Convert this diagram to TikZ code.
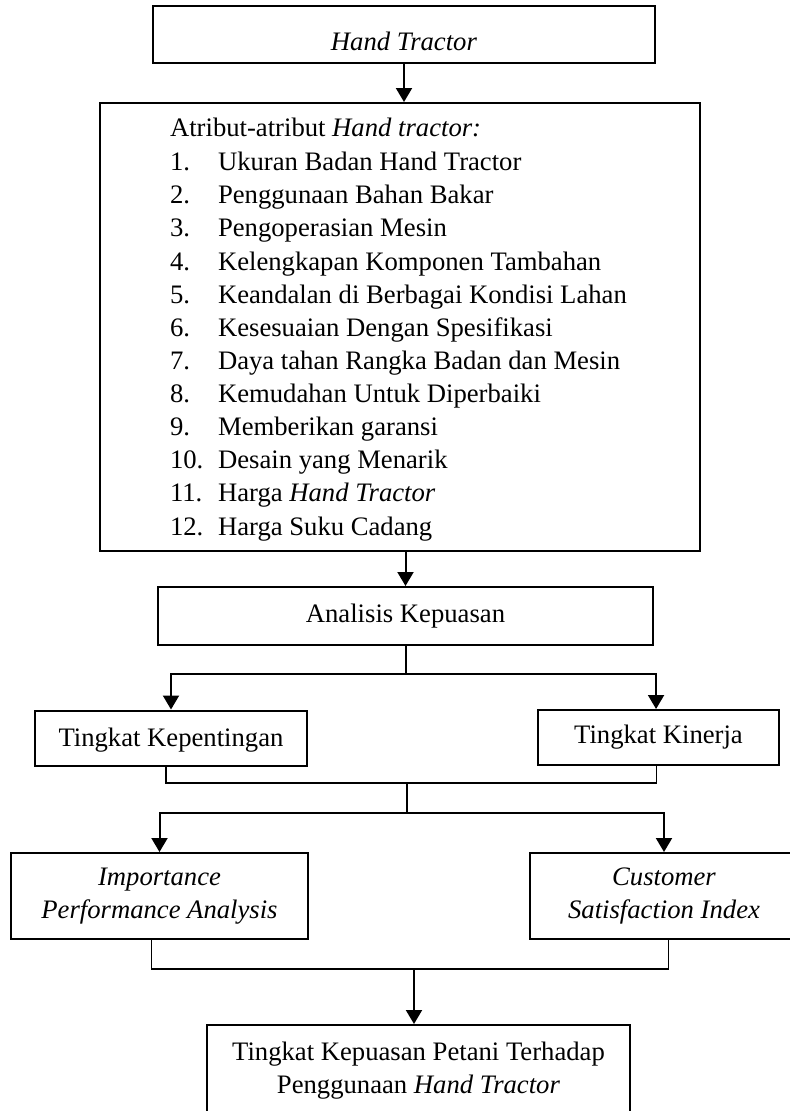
\documentclass[tikz,border=0pt]{standalone}
\usepackage{fontspec}
\setmainfont{Liberation Serif}
\usetikzlibrary{arrows.meta}
\begin{document}
\begin{tikzpicture}[x=0.45pt,y=-0.45pt,
  font=\fontsize{12}{14.85}\selectfont,
  box/.style={draw, line width=0.9pt, inner sep=0pt, align=center},
  conn/.style={line width=0.9pt},
  arr/.style={line width=0.9pt, -{Triangle[length=6.3pt,width=7.2pt]}},
  thinline/.style={line width=0.5pt},
  listtext/.style={anchor=base west, inner sep=0pt}]
\useasboundingbox (0,0) rectangle (790,1111);

% boxes
\node[box, minimum width=502*0.45pt, minimum height=57*0.45pt] (top) at (404,34.5) {\raisebox{-2.9pt}[\height][\depth]{\textit{Hand Tractor}}};
\node[box, minimum width=600*0.45pt, minimum height=448*0.45pt] (attr) at (400,327) {};
\node[listtext] (attrhead) at (169.6,136.7) {Atribut-atribut \textit{Hand tractor:}};
\foreach \n/\t [count=\k] in {
  1/Ukuran Badan Hand Tractor,
  2/Penggunaan Bahan Bakar,
  3/Pengoperasian Mesin,
  4/Kelengkapan Komponen Tambahan,
  5/Keandalan di Berbagai Kondisi Lahan,
  6/Kesesuaian Dengan Spesifikasi,
  7/Daya tahan Rangka Badan dan Mesin,
  8/Kemudahan Untuk Diperbaiki,
  9/Memberikan garansi,
  10/Desain yang Menarik,
  11/{Harga \textit{Hand Tractor}},
  12/Harga Suku Cadang}{
  \node[listtext] (num\k) at (169.6,{170.7+33.12*(\k-1)}) {\n.};
  \node[listtext] (item\k) at (217.6,{170.7+33.12*(\k-1)}) {\t};
}
\node[box, minimum width=495*0.45pt, minimum height=58*0.45pt] (ana) at (405.5,616) {Analisis Kepuasan};
\node[box, minimum width=272*0.45pt, minimum height=55*0.45pt] (kep) at (171,738) {\raisebox{-1.1pt}[\height][\depth]{Tingkat Kepentingan}};
\node[box, minimum width=241*0.45pt, minimum height=55*0.45pt] (kin) at (658.5,737.5) {Tingkat Kinerja};
\node[box, minimum width=297*0.45pt, minimum height=86*0.45pt, font=\fontsize{12}{14.85}\selectfont\itshape] (ipa) at (159.5,896) {Importance\\Performance Analysis};
\node[box, minimum width=268*0.45pt, minimum height=86*0.45pt, font=\fontsize{12}{14.85}\selectfont\itshape] (csi) at (664,896) {Customer\\Satisfaction Index};
\node[box, minimum width=423*0.45pt, minimum height=110*0.45pt] (fin) at (418.5,1080) {};
\node[align=center, inner sep=0pt] (fintext) at (418.5,1070.5) {Tingkat Kepuasan Petani Terhadap\\Penggunaan \textit{Hand Tractor}};

% junctions
\coordinate (j1) at (405.5,674);
\coordinate (j2) at (407,783);
\coordinate (j3) at (407,813);
\coordinate (j4) at (414,969);

% connectors
\draw[arr] (top.south) -- (top.south |- attr.north);
\draw[arr] (ana.north |- attr.south) -- (ana.north);
\draw[conn] (ana.south) -- (j1);
\draw[arr] (j1) -| (kep.north);
\draw[arr] (j1) -| ([xshift=-1.1pt]kin.north);
\draw[thinline] ([xshift=-2.25pt]kep.south) |- (j2) -| ([xshift=-1.1pt]kin.south);
\draw[conn] (j2) -- (j3);
\draw[arr] (j3) -| (ipa.north);
\draw[arr] (j3) -| (csi.north);
\draw[thinline] ([xshift=-3.8pt]ipa.south) |- (j4) -| ([xshift=2pt]csi.south);
\draw[arr] (j4) -- (j4 |- fin.north);
\end{tikzpicture}
\end{document}
